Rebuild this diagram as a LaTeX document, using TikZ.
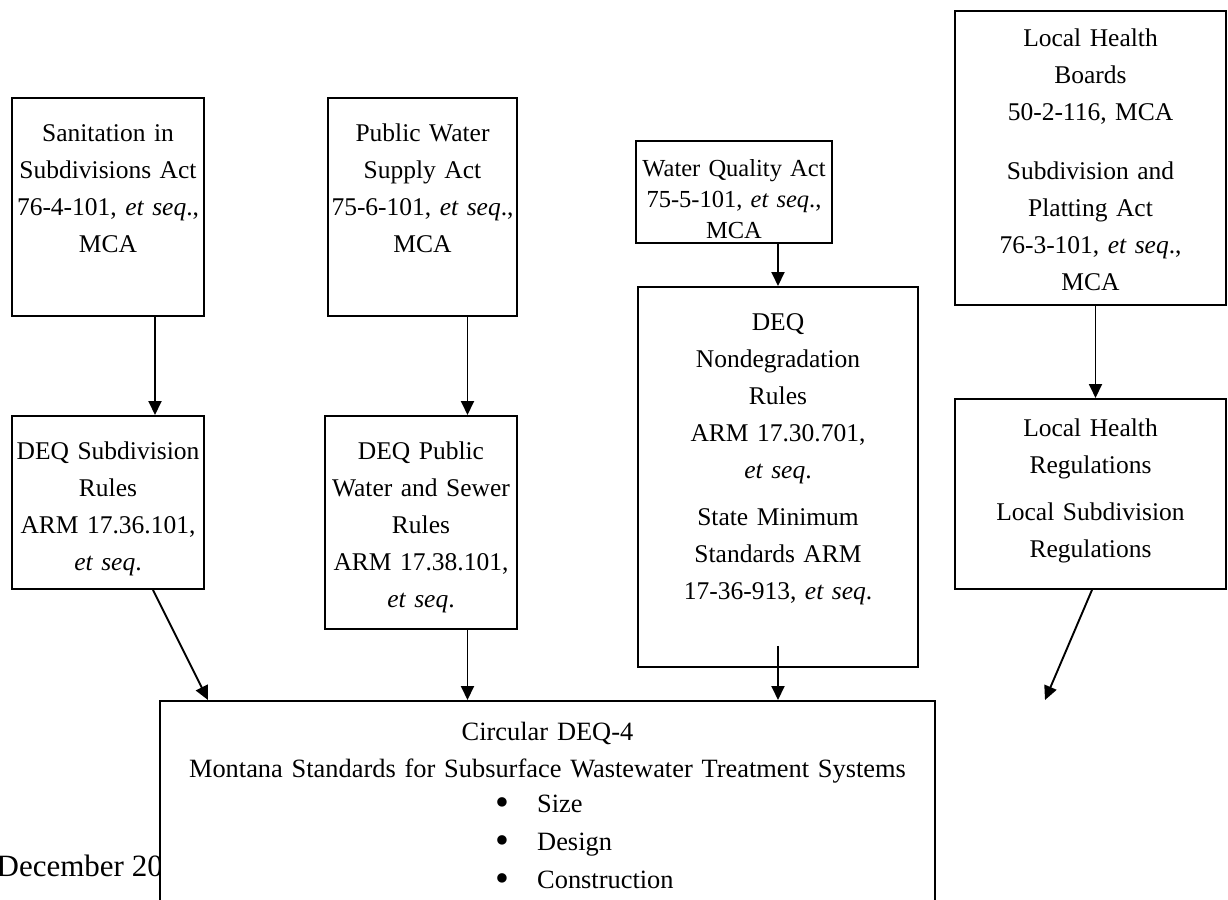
\documentclass[tikz,border=0pt]{standalone}
\usepackage{fontspec}
\setmainfont{Liberation Serif}
\usetikzlibrary{arrows.meta,positioning}
\hyphenpenalty=10000
\exhyphenpenalty=10000
\newcommand{\boxFont}{\fontsize{25.5}{37}\selectfont}
\newcommand{\tightFont}{\fontsize{24.5}{31}\selectfont}
\newcommand{\mainFont}{\fontsize{26.4}{37}\selectfont}
\newcommand{\footFont}{\fontsize{31}{36}\selectfont}
\newcommand{\etseq}{\textit{et seq}}
\newcommand{\itemMark}{\makebox[42pt][l]{\raisebox{-3.5pt}{\scalebox{1.5}{\textbullet}}}}
\tikzset{%
  lawBox/.style={%
    rectangle,
    draw=black,
    line width=1.9pt,
    fill=white,
    anchor=north,
    align=center,
    inner xsep=1pt,
    inner ysep=0pt,
    text height=44pt,
    font=\boxFont
  },
  flowArrow/.style={%
    -{Triangle[length=14pt,width=13pt]},
    line width=1.9pt
  }
}
\begin{document}
\begin{tikzpicture}[x=1pt,y=-1pt]
  \useasboundingbox (0,0) rectangle (1228,899);

  % acts
  \node[lawBox, text width=190pt, text depth=174pt] (sanAct) at (108,97)
    {Sanitation in\\Subdivisions Act\\76-4-101, \etseq.,\\MCA};
  \node[lawBox, text width=187pt, text depth=174pt] (supplyAct) at (422.5,97)
    {Public Water\\Supply Act\\75-6-101, \etseq.,\\MCA};
  \node[lawBox, font=\tightFont, text width=194pt, text height=36pt, text depth=66pt] (qualityAct) at (734,140)
    {Water Quality Act\\75-5-101, \etseq.,\\MCA};
  \node[lawBox, text width=269pt, text height=36pt, text depth=258pt] (healthBoards) at (1090.5,10)
    {Local Health\\Boards\\50-2-116, MCA\\[22pt]Subdivision and\\Platting Act\\76-3-101, \etseq.,\\MCA};

  % rules
  \node[lawBox, text width=190pt, text depth=129pt] (subdivRules) at (108,415)
    {DEQ Subdivision\\Rules\\ARM 17.36.101,\\\etseq.};
  \node[lawBox, text width=190pt, text depth=169pt] (sewerRules) at (421,415)
    {DEQ Public\\Water and Sewer\\Rules\\ARM 17.38.101,\\\etseq.};
  \node[lawBox, text width=278pt, text depth=336pt] (nondegRules) at (778,286)
    {DEQ\\Nondegradation\\Rules\\ARM 17.30.701,\\\etseq.\\[10pt]State Minimum\\Standards ARM\\17-36-913, \etseq.};
  \node[lawBox, text width=269pt, text height=38pt, text depth=152pt] (healthRegs) at (1090.5,398)
    {Local Health\\Regulations\\[10pt]Local Subdivision\\Regulations};

  % footer and standards
  \node[anchor=base east, inner sep=0pt, font=\footFont] (pageDate) at (163,876) {December 20};
  \node[lawBox, font=\mainFont, text width=773pt, text height=40pt, text depth=300pt] (deqFour) at (547.5,700)
    {Circular DEQ-4\\Montana Standards for Subsurface Wastewater Treatment Systems};
  \node[anchor=base west, align=left, inner sep=0pt, font=\mainFont] (deqItems) at (495,888)
    {\itemMark Size\\[1pt]\itemMark Design\\[1pt]\itemMark Construction};

  \draw[flowArrow] ([xshift=47pt]sanAct.south) -- ([xshift=47pt]subdivRules.north);
  \draw[flowArrow] ([xshift=45pt]supplyAct.south) -- ([xshift=46.5pt]sewerRules.north);
  \draw[flowArrow] ([xshift=44pt]qualityAct.south) -- (nondegRules.north);
  \draw[flowArrow] ([xshift=5pt]healthBoards.south) -- ([xshift=5pt]healthRegs.north);

  \draw[flowArrow] ([xshift=45pt]subdivRules.south) -- ([xshift=-339.5pt]deqFour.north);
  \draw[flowArrow] ([xshift=46.5pt]sewerRules.south) -- ([xshift=-80pt]deqFour.north);
  \draw[flowArrow] ([yshift=22pt]nondegRules.south) -- ([xshift=230.5pt]deqFour.north);
  \draw[flowArrow] ([xshift=1.5pt]healthRegs.south) -- ([xshift=497.5pt]deqFour.north);
\end{tikzpicture}
\end{document}
